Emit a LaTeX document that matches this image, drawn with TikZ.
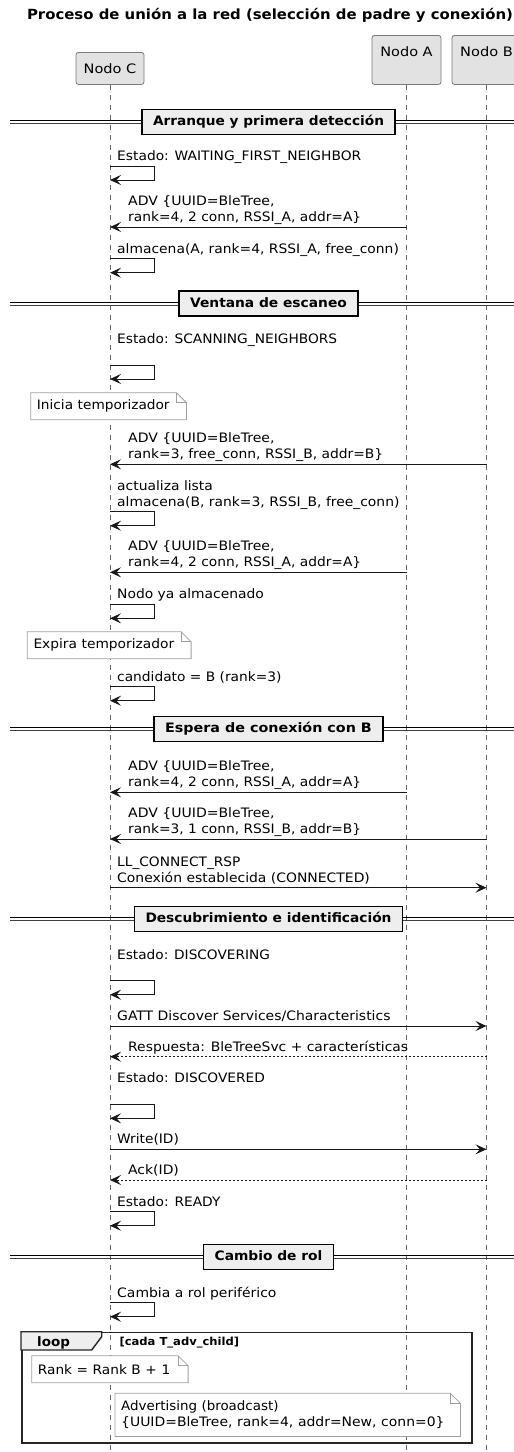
\documentclass[tikz,border=0pt]{standalone}
\usepackage{graphicx}
\usepackage{fontspec}
\setmainfont{DejaVu Sans}
\usetikzlibrary{arrows.meta}
\definecolor{arrowc}{HTML}{181818}
\definecolor{partfill}{HTML}{E2E2E2}
\definecolor{partdraw}{HTML}{7A7A7A}
\definecolor{divfill}{HTML}{EEEEEE}
\definecolor{notedraw}{HTML}{A0A0A0}
\definecolor{lifec}{HTML}{666666}
% fit a line of text to a given width (horizontal stretch only)
\newcommand\fw[2]{\resizebox{#1pt}{\height}{#2}}
\newcommand\notefold[1]{%
  \draw[noteline] (#1.north west) -- ([xshift=-10pt]#1.north east) -- ([yshift=-10pt]#1.north east) -- (#1.south east) -- (#1.south west) -- cycle;
  \draw[noteline] ([xshift=-10pt]#1.north east) |- ([yshift=-10pt]#1.north east);}
\newcommand\divline[1]{%
  \draw[black, line width=1pt] (10,#1-1.5) -- (530,#1-1.5);
  \draw[black!75, line width=0.8pt] (10,#1+1.5) -- (530,#1+1.5);}
\begin{document}
\begin{tikzpicture}[x=1pt,y=-1pt,
  txt/.style={anchor=base west, inner sep=0pt, font=\fontsize{13}{16}\selectfont, align=left},
  msg/.style={draw=arrowc, line width=1pt, -{Stealth[length=11pt,width=10pt,inset=4.5pt,fill=arrowc]}},
  reply/.style={msg, dash pattern=on 2pt off 2pt},
  part/.style={draw=partdraw, fill=partfill, line width=0.8pt, rounded corners=2.5pt, inner ysep=0pt, text height=21.5pt, font=\fontsize{13}{16}\selectfont},
  lifeline/.style={draw=lifec, line width=0.7pt, dash pattern=on 5pt off 5pt},
  divbox/.style={draw=black, fill=divfill, line width=1.5pt, font=\bfseries\fontsize{13}{16}\selectfont, minimum height=25pt, inner xsep=11pt, inner ysep=0pt, text height=9.5pt, text depth=2.5pt},
  note/.style={fill=white, anchor=north west, inner xsep=6pt, inner ysep=0pt, font=\fontsize{13}{16}\selectfont, align=left},
  noteline/.style={draw=notedraw, line width=0.8pt},
]
\useasboundingbox (0,0) rectangle (514,1452);
\fill[white] (0,0) rectangle (514,1452);

% title
\node[anchor=base, inner sep=0pt, font=\bfseries\fontsize{14}{16}\selectfont] (title) at (270,19) {\fw{486}{Proceso de unión a la red (selección de padre y conexión)}};

% participants
\node[part, minimum width=68pt, minimum height=32pt, text depth=10.5pt, anchor=north] (C) at (110,52) {\fw{52.7}{Nodo C}};
\node[part, minimum width=69pt, minimum height=49pt, text depth=27.5pt, anchor=north] (A) at (406.5,35) {\fw{52.3}{Nodo A}};
\node[part, minimum width=69pt, minimum height=49pt, text depth=27.5pt, anchor=north] (B) at (486.5,35) {\fw{52.7}{Nodo B}};

% lifelines
\coordinate (Cend) at (C |- 0,1452);
\coordinate (Aend) at (A |- 0,1452);
\coordinate (Bend) at (B |- 0,1452);
\draw[lifeline] (C.south) -- (Cend);
\draw[lifeline] (A.south) -- (Aend);
\draw[lifeline] (B.south) -- (Bend);

% --- Arranque
\divline{122}
\node[divbox] (d1) at (268.5,122) {\fw{231}{Arranque y primera detección}};

\node[txt] (m1) at (117,160.5) {\fw{244}{Estado: WAITING\_FIRST\_NEIGHBOR}};
\draw[msg] (C |- 0,166) -- ++(44,0) -- ++(0,14) -- (C |- 0,180);

\node[txt] (m2) at (128,221.5) {\fw{146.3}{ADV \{UUID=BleTree,}\\\fw{233}{rank=4, 2 conn, RSSI\_A, addr=A\}}};
\draw[msg] (A |- 0,227) -- (C |- 0,227);

\node[txt] (m3) at (117,253.2) {\fw{281.7}{almacena(A, rank=4, RSSI\_A, free\_conn)}};
\draw[msg] (C |- 0,258.7) -- ++(44,0) -- ++(0,14) -- (C |- 0,272.7);

% --- Ventana
\divline{303.5}
\node[divbox] (d2) at (268.5,303.5) {\fw{156.7}{Ventana de escaneo}};

\node[txt] (m4) at (117,343.5) {\fw{220}{Estado: SCANNING\_NEIGHBORS}};
\draw[msg] (C |- 0,365) -- ++(44,0) -- ++(0,14) -- (C |- 0,379);

\node[note, minimum width=155.3pt, minimum height=26.6pt, text width=143.3pt] (n1) at (30.7,392.7) {\fw{132.7}{Inicia temporizador}};
\notefold{n1}

\node[txt] (m5) at (128,458.8) {\fw{146.3}{ADV \{UUID=BleTree,}\\\fw{255}{rank=3, free\_conn, RSSI\_B, addr=B\}}};
\draw[msg] (B |- 0,464.3) -- (C |- 0,464.3);

\node[txt] (m6) at (117,506.2) {\fw{95.7}{actualiza lista}\\\fw{282.3}{almacena(B, rank=3, RSSI\_B, free\_conn)}};
\draw[msg] (C |- 0,511.7) -- ++(44,0) -- ++(0,14) -- (C |- 0,525.7);

\node[txt] (m7) at (128,566.8) {\fw{146.3}{ADV \{UUID=BleTree,}\\\fw{233}{rank=4, 2 conn, RSSI\_A, addr=A\}}};
\draw[msg] (A |- 0,572.3) -- (C |- 0,572.3);

\node[txt] (m8) at (117,598.8) {\fw{146.7}{Nodo ya almacenado}};
\draw[msg] (C |- 0,604.3) -- ++(44,0) -- ++(0,14) -- (C |- 0,618.3);

\node[note, minimum width=163.4pt, minimum height=26.6pt, text width=151.4pt] (n2) at (27.3,631.7) {\fw{140.7}{Expira temporizador}};
\notefold{n2}

\node[txt] (m9) at (117,681.2) {\fw{164.3}{candidato = B (rank=3)}};
\draw[msg] (C |- 0,686.7) -- ++(44,0) -- ++(0,14) -- (C |- 0,700.7);

% --- Espera
\divline{729}
\node[divbox] (d3) at (268.5,729) {\fw{206.7}{Espera de conexión con B}};

\node[txt] (m10) at (128,786.8) {\fw{146.3}{ADV \{UUID=BleTree,}\\\fw{233}{rank=4, 2 conn, RSSI\_A, addr=A\}}};
\draw[msg] (A |- 0,792.3) -- (C |- 0,792.3);

\node[txt] (m11) at (128,833.5) {\fw{146.3}{ADV \{UUID=BleTree,}\\\fw{233}{rank=3, 1 conn, RSSI\_B, addr=B\}}};
\draw[msg] (B |- 0,839) -- (C |- 0,839);

\node[txt] (m12) at (117,882.2) {\fw{123.3}{LL\_CONNECT\_RSP}\\\fw{252.7}{Conexión establecida (CONNECTED)}};
\draw[msg] (C |- 0,887.7) -- (B |- 0,887.7);

% --- Descubrimiento
\divline{919}
\node[divbox] (d4) at (268.5,919) {\fw{246}{Descubrimiento e identificación}};

\node[txt] (m13) at (117,959.2) {\fw{152.7}{Estado: DISCOVERING}};
\draw[msg] (C |- 0,980.7) -- ++(44,0) -- ++(0,14) -- (C |- 0,994.7);

\node[txt] (m14) at (117,1020.5) {\fw{273.3}{GATT Discover Services/Characteristics}};
\draw[msg] (C |- 0,1026) -- (B |- 0,1026);

\node[txt] (m15) at (128,1051.2) {\fw{280}{Respuesta: BleTreeSvc + características}};
\draw[reply] (B |- 0,1056.7) -- (C |- 0,1056.7);

\node[txt] (m16) at (117,1082.8) {\fw{147.7}{Estado: DISCOVERED}};
\draw[msg] (C |- 0,1104.3) -- ++(44,0) -- ++(0,14) -- (C |- 0,1118.3);

\node[txt] (m17) at (117,1143.8) {\fw{61.7}{Write(ID)}};
\draw[msg] (C |- 0,1149.3) -- (B |- 0,1149.3);

\node[txt] (m18) at (128,1174.5) {\fw{50.7}{Ack(ID)}};
\draw[reply] (B |- 0,1180) -- (C |- 0,1180);

\node[txt] (m19) at (117,1206.2) {\fw{103.3}{Estado: READY}};
\draw[msg] (C |- 0,1211.7) -- ++(44,0) -- ++(0,14) -- (C |- 0,1225.7);

% --- Cambio de rol
\divline{1257}
\node[divbox] (d5) at (268.5,1257) {\fw{107.7}{Cambio de rol}};

\node[txt] (m20) at (117,1297.2) {\fw{159.3}{Cambia a rol periférico}};
\draw[msg] (C |- 0,1302.7) -- ++(44,0) -- ++(0,14) -- (C |- 0,1316.7);

% loop
\node[draw=black!85, line width=1.6pt, minimum width=450pt, minimum height=110.6pt, anchor=north west, inner sep=0pt] (loop) at (21,1331.7) {};
\draw[draw=black!85, fill=divfill, line width=1.4pt] (loop.north west) -- ++(80.7,0) -- ++(0,5) -- ++(-10,13.3) -- (loop.north west |- 0,1350) -- cycle;
\node[anchor=base west, inner sep=0pt, font=\bfseries\fontsize{13}{16}\selectfont] (looplbl) at (37,1346) {\fw{32.7}{loop}};
\node[anchor=base west, inner sep=0pt, font=\bfseries\fontsize{11}{13}\selectfont] (loopcond) at (119.3,1345.5) {\fw{119.7}{[cada T\_adv\_child]}};

\node[note, minimum width=156pt, minimum height=26.6pt, text width=144pt] (n3) at (31.7,1355.7) {\fw{132.3}{Rank = Rank B + 1}};
\notefold{n3}

\node[note, minimum width=345pt, minimum height=42.7pt, text width=333pt] (n4) at (115,1393.3) {\fw{157.3}{Advertising (broadcast)}\\\fw{323.3}{\{UUID=BleTree, rank=4, addr=New, conn=0\}}};
\notefold{n4}
\end{tikzpicture}
\end{document}
